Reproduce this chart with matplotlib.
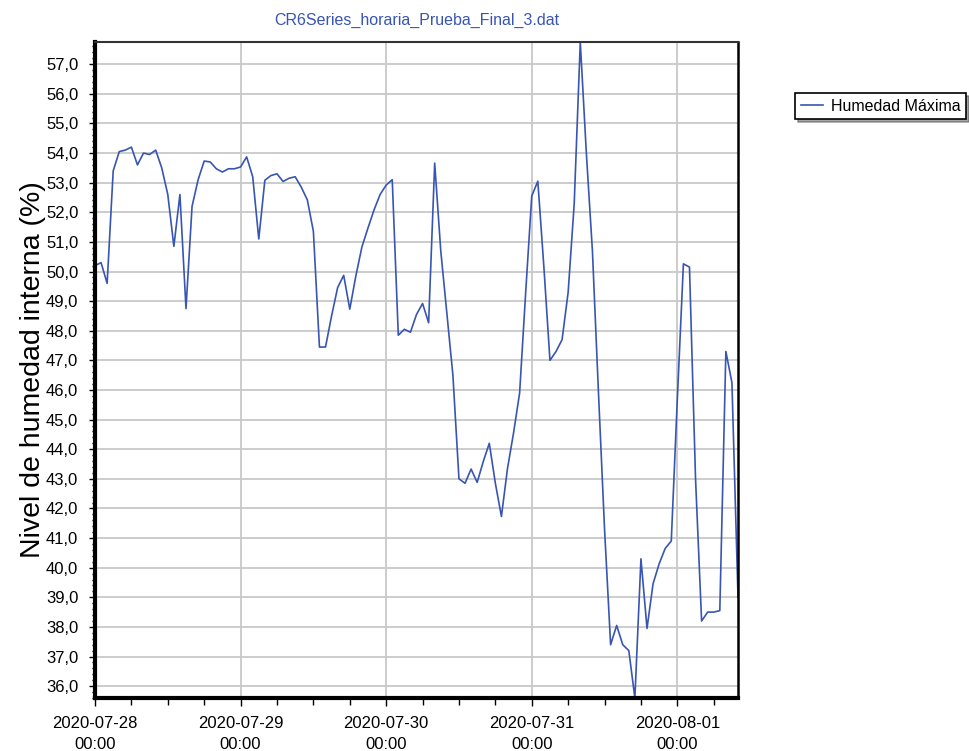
import numpy as np
import pandas as pd
import matplotlib
matplotlib.use('Agg')
import matplotlib.pyplot as plt
import matplotlib.dates as mdates
from matplotlib.ticker import FuncFormatter, MultipleLocator

plt.rcParams['font.family'] = ['Liberation Sans', 'DejaVu Sans']

# datos horarios (desde 2020-07-28 00:00)
start = '2020-07-28 00:00'
humedad_max = [
    50.2, 50.3, 49.6, 53.4, 54.05, 54.1, 54.2, 53.6, 54.0, 53.95,
    54.1, 53.5, 52.6, 50.85, 52.6, 48.75, 52.2, 53.1, 53.73, 53.7,
    53.47, 53.36, 53.47, 53.47, 53.53, 53.87, 53.2, 51.1, 53.08, 53.24,
    53.3, 53.04, 53.15, 53.2, 52.85, 52.42, 51.36, 47.45, 47.45, 48.5,
    49.46, 49.87, 48.73, 49.85, 50.83, 51.47, 52.08, 52.6, 52.92, 53.1,
    47.85, 48.05, 47.95, 48.55, 48.92, 48.27, 53.66, 50.7, 48.6, 46.5,
    43.0, 42.85, 43.33, 42.88, 43.58, 44.2, 42.85, 41.73, 43.35, 44.55,
    45.9, 49.3, 52.55, 53.05, 50.15, 47.0, 47.3, 47.7, 49.3, 52.3,
    57.75, 54.0, 50.7, 45.9, 41.3, 37.4, 38.05, 37.4, 37.2, 35.6,
    40.3, 37.95, 39.46, 40.13, 40.65, 40.9, 45.7, 50.26, 50.15, 43.0,
    38.2, 38.5, 38.5, 38.55, 47.3, 46.25, 39.0,
]
serie_label = 'Humedad Máxima'
titulo = 'CR6Series_horaria_Prueba_Final_3.dat'
ylabel = 'Nivel de humedad interna (%)'

fechas = pd.date_range(start, periods=len(humedad_max), freq='h')

fig = plt.figure(figsize=(9.7, 7.51), dpi=100)
ax = fig.add_axes([95/970, 1-698/751, (738-95)/970, (698-42)/751])

azul = '#3855b3'
ax.plot(fechas, humedad_max, color=azul, lw=1.2, label=serie_label)

ax.set_xlim(fechas[0], fechas[-1])
ax.set_ylim(min(humedad_max), max(humedad_max))

ax.yaxis.set_major_locator(MultipleLocator(1))
ax.yaxis.set_minor_locator(MultipleLocator(0.2))
ax.yaxis.set_major_formatter(FuncFormatter(lambda v, p: ('%.1f' % v).replace('.', ',')))

ax.xaxis.set_major_locator(mdates.DayLocator())
ax.xaxis.set_minor_locator(mdates.HourLocator(byhour=[6, 12, 18]))
ax.xaxis.set_major_formatter(mdates.DateFormatter('%Y-%m-%d\n%H:%M'))

ax.grid(True, which='major', color='#c8c8c8', lw=1.3)
ax.set_axisbelow(True)

ax.tick_params(axis='y', which='major', length=4, width=1, labelsize=12, pad=8)
ax.tick_params(axis='y', which='minor', length=2, width=1)
ax.tick_params(axis='x', which='major', length=6, width=1, labelsize=12, pad=7)
ax.tick_params(axis='x', which='minor', length=5, width=1)
for lab in ax.get_xticklabels():
    lab.set_linespacing(1.5)

ax.spines['left'].set_linewidth(3)
ax.spines['bottom'].set_linewidth(3)
ax.spines['right'].set_linewidth(1.8)
ax.spines['top'].set_linewidth(1.5)
ax.spines['top'].set_color('#333333')

ax.set_ylabel(ylabel, fontsize=20.5, labelpad=0)
fig.text((95+738)/2/970, 1-20/751, titulo, color=azul, fontsize=11.5,
         ha='center', va='center')

leg = fig.legend(loc='upper left', bbox_to_anchor=(795/970, 1-93/751),
                 fontsize=11.5, frameon=True, fancybox=False, shadow=True,
                 handlelength=1.4, borderpad=0.35, handletextpad=0.5, borderaxespad=0)
leg.get_frame().set_edgecolor('black')
leg.get_frame().set_linewidth(1.2)

plt.savefig('out.png', dpi=100)
